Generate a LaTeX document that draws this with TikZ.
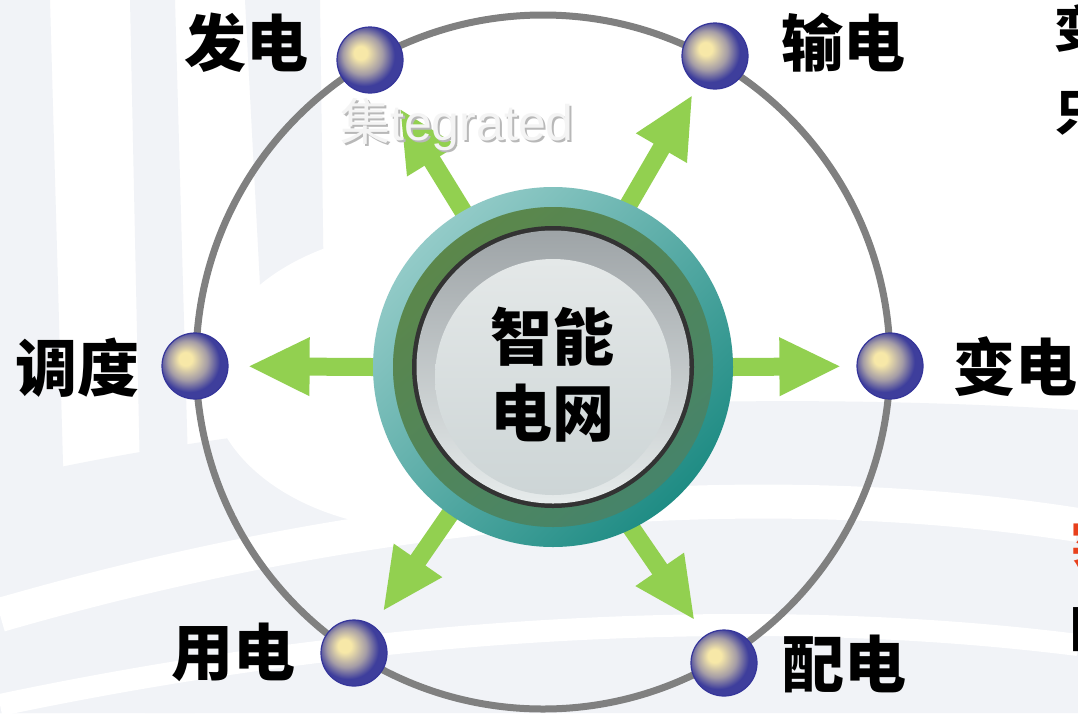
\documentclass[tikz,border=0pt]{standalone}
\usepackage{fontspec}
\setmainfont{Liberation Sans}
\newfontfamily\cjk{Noto Sans CJK SC}
\usetikzlibrary{arrows.meta}
\definecolor{bgpale}{HTML}{F1F3F7}
\definecolor{orbitgray}{HTML}{808080}
\definecolor{arrowgreen}{HTML}{92D050}
\definecolor{orbA}{HTML}{F7E8A8}
\definecolor{orbB}{HTML}{A49CA6}
\definecolor{orbC}{HTML}{3E3E9C}
\definecolor{orbRim}{HTML}{35359A}
\definecolor{tealL}{HTML}{93CBC8}
\definecolor{tealD}{HTML}{1F8C84}
\definecolor{olive}{HTML}{5E7A4A}
\definecolor{ringG}{HTML}{5B8E4C}
\definecolor{ringT}{HTML}{3A8A7C}
\definecolor{faceTop}{HTML}{9EA4A7}
\definecolor{faceBot}{HTML}{E6EBEB}
\definecolor{discTop}{HTML}{E4E8E8}
\definecolor{discBot}{HTML}{CDD5D6}
\definecolor{wmfill}{HTML}{F4F4F4}
\definecolor{wmshadow}{HTML}{B8B8B8}
\definecolor{redtxt}{HTML}{E8401C}
\pgfdeclareradialshading{orb}{\pgfpoint{-8bp}{6bp}}{color(0bp)=(orbA); color(5bp)=(orbA); color(15bp)=(orbB); color(23bp)=(orbC); color(50bp)=(orbC)}
\tikzset{
  orbball/.style={circle, minimum size=66pt, inner sep=0pt, shading=orb, draw=orbRim, line width=1.2pt},
  lbl/.style={inner sep=0pt, font=\cjk\bfseries\fontsize{62}{62}\selectfont},
  edgetxt/.style={inner sep=0pt, anchor=west, font=\cjk\bfseries\fontsize{50}{50}\selectfont},
  garrow/.style={draw=arrowgreen, line width=18pt, -{Triangle[width=54pt,length=62pt]}},
  bgband/.style={bgpale}
}
\begin{document}
\begin{tikzpicture}[x=1pt,y=-1pt]
\useasboundingbox (0,0) rectangle (1078,713);
\clip (0,0) rectangle (1078,713);
\fill[white] (0,0) rectangle (1078,713);
% faint background swooshes
\fill[bgband] (0,0) -- (50,0) -- (70,713) -- (0,713) -- cycle;
\fill[bgband] (130,0) -- (175,0) -- (195,713) -- (145,713) -- cycle;
\fill[bgband] (245,0) -- (320,0) -- (325,380) -- (265,380) -- cycle;
\fill[bgband] (0,480) .. controls (350,400) and (750,390) .. (1078,410) -- (1078,713) -- (0,713) -- cycle;
\draw[white, line width=34pt] (0,615) .. controls (380,505) and (760,475) .. (1078,525);
\draw[white, line width=22pt] (0,705) .. controls (380,625) and (760,605) .. (1078,645);
\fill[white] (430,380) ellipse (220 and 150);
% orbit
\draw[orbitgray, line width=7pt] (543,362) circle (347);
% outer nodes
\node[orbball] (b1) at (370,60) {};
\node[orbball] (b2) at (715,56) {};
\node[orbball] (b3) at (195,366) {};
\node[orbball] (b4) at (890,366) {};
\node[orbball] (b5) at (354,653) {};
\node[orbball] (b6) at (724,663) {};
% hub placeholder (for anchors)
\node[circle, minimum size=360pt, inner sep=0pt] (hub) at (553,367) {};
% arrows
\draw[garrow, shorten <=-14pt, shorten >=23pt] (hub.120) -- (b1);
\draw[garrow, shorten <=-14pt, shorten >=11pt] (hub.65) -- (b2);
\draw[garrow, shorten <=-14pt, shorten >=19pt] (hub.180) -- (b3);
\draw[garrow, shorten <=-14pt, shorten >=15pt] (hub.0) -- (b4);
\draw[garrow, shorten <=-14pt, shorten >=17pt] (hub.235) -- (b5);
\draw[garrow, shorten <=-14pt, shorten >=18pt] (hub.296) -- (b6);
% hub layers
\shade[top color=tealL, bottom color=tealD, shading angle=45] (hub.center) circle (180);
\shade[top color=ringG, bottom color=ringT, shading angle=40] (hub.center) circle (160);
\fill[olive, opacity=0.35] (hub.center) circle (160);
\fill[black!80] (hub.center) circle (141);
\shade[top color=faceTop, bottom color=faceBot] (hub.center) circle (136.5);
\shade[top color=discTop, bottom color=discBot] ([yshift=-10pt]hub.center) circle (118);
\node[inner sep=0pt, align=center, font=\cjk\bfseries\fontsize{62}{76}\selectfont] (core) at (552,375) {智能\\电网};
% labels
\node[lbl] (l1) at (246,43) {发电};
\node[lbl] (l2) at (843,43) {输电};
\node[lbl] (l3) at (77,368) {调度};
\node[lbl] (l4) at (1015,367) {变电};
\node[lbl] (l5) at (233,652) {用电};
\node[lbl] (l6) at (844,664) {配电};
% watermark
\node[anchor=base west, inner sep=0pt, text=wmshadow, font=\fontsize{50}{50}\selectfont] (wms) at (342,142) {{\cjk 集}tegrated};
\node[anchor=base west, inner sep=0pt, text=wmfill, font=\fontsize{50}{50}\selectfont] (wm) at (340,140) {{\cjk 集}tegrated};
% cut-off text at right edge
\node[edgetxt] (e1) at (1054,28) {变};
\node[edgetxt] (e2) at (1054,113) {只};
\node[edgetxt, text=redtxt] (e3) at (1070,543) {实};
\node[edgetxt] (e4) at (1066,630) {日};
\end{tikzpicture}
\end{document}
